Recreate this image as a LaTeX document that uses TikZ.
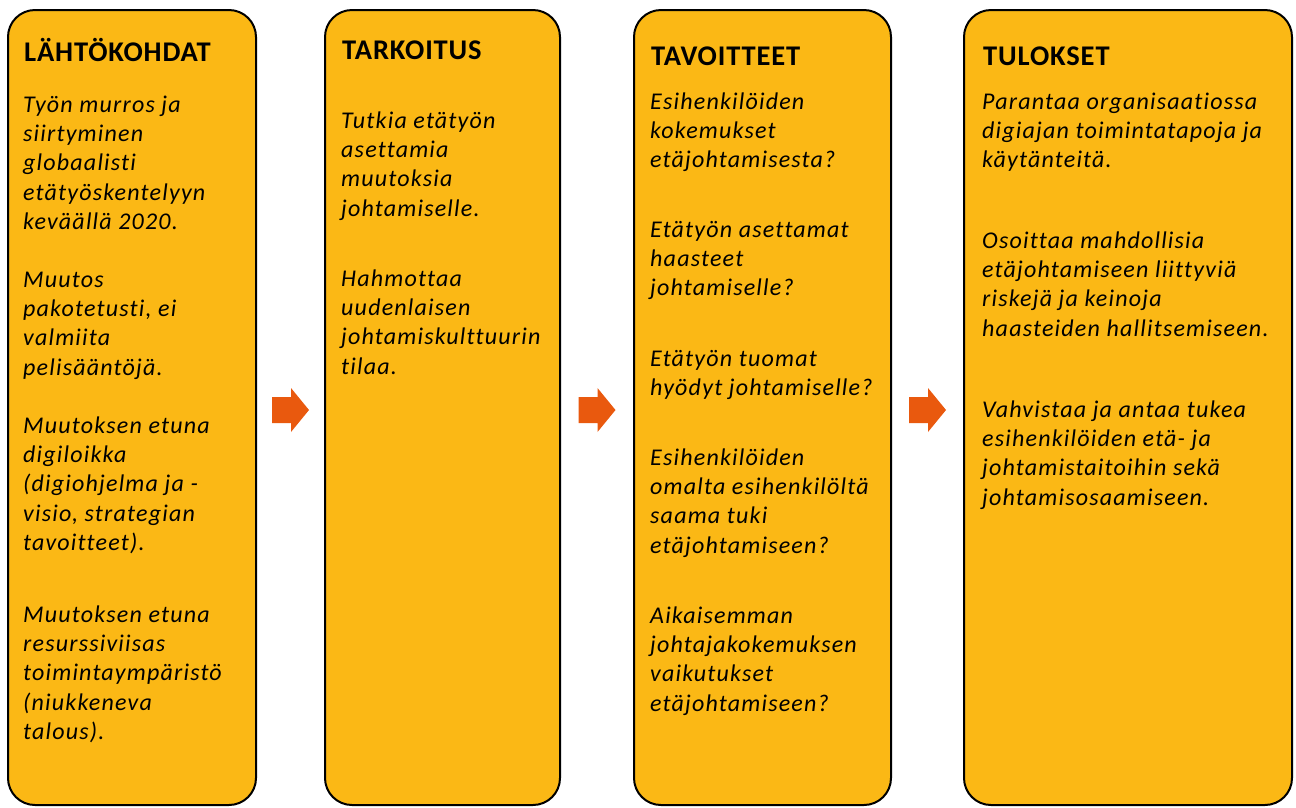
\documentclass[tikz,border=0pt]{standalone}
\usepackage{fontspec}
\setmainfont{Carlito}
\newfontfamily\bodyfam[LetterSpace=5, Ligatures=NoCommon]{Carlito}
\newfontfamily\headfam[LetterSpace=3, Ligatures=NoCommon]{Carlito}
\usepackage{tikz}
\usetikzlibrary{calc}
\definecolor{panelfill}{RGB}{251,184,21}
\definecolor{arrowred}{RGB}{233,89,14}
\newcommand{\titlefont}{\headfam\fontsize{28.5}{34}\selectfont\bfseries}
\newcommand{\bodyfont}{\bodyfam\fontsize{24}{29.3}\selectfont\itshape}

\begin{document}
\begin{tikzpicture}[x=1pt, y=-1pt,
  panel/.style={draw=black, line width=2pt, fill=panelfill, rounded corners=27pt, inner sep=0pt},
  heading/.style={anchor=base west, inner sep=0pt, font=\titlefont},
  para/.style={anchor=north west, inner sep=0pt, align=left, font=\bodyfont},
  flowarrow/.style={fill=arrowred, draw=none}]
  \useasboundingbox (0,0) rectangle (1296,807);

  % Panels
  \node[panel, minimum width=248pt, minimum height=795pt] (lahto) at (132,407.5) {};
  \node[panel, minimum width=235pt, minimum height=795pt] (tarkoitus) at (442.5,407.5) {};
  \node[panel, minimum width=257pt, minimum height=795pt] (tavoitteet) at (762.5,407.5) {};
  \node[panel, minimum width=328pt, minimum height=795pt] (tulokset) at (1128,407.5) {};

  % Arrows between panels
  \foreach \a/\b in {lahto/tarkoitus, tarkoitus/tavoitteet, tavoitteet/tulokset} {
    \coordinate (mid-\a) at ($(\a.east)!0.5!(\b.west)+(0,2.5)$);
    \fill[flowarrow] ($(mid-\a)+(-18.5,-13)$) -- ++(19,0) -- ++(0,-9) -- ++(18,22)
      -- ++(-18,22) -- ++(0,-9) -- ++(-19,0) -- cycle;
  }

  % Lähtökohdat
  \node[heading] (lahto-t) at (24,61) {LÄHTÖKOHDAT};
  \node[para] (lahto-p1) at (23,91.5) {\strut Työn murros ja\\siirtyminen\\globaalisti\\etätyöskentelyyn\\keväällä 2020.};
  \node[para] (lahto-p2) at (23,266.5) {\strut Muutos\\pakotetusti, ei\\valmiita\\pelisääntöjä.};
  \node[para] (lahto-p3) at (23,412.5) {\strut Muutoksen etuna\\digiloikka\\(digiohjelma ja -\\visio, strategian\\tavoitteet).};
  \node[para] (lahto-p4) at (23,601.5) {\strut Muutoksen etuna\\resurssiviisas\\toimintaympäristö\\(niukkeneva\\talous).};

  % Tarkoitus
  \node[heading] (tarkoitus-t) at (342,59) {TARKOITUS};
  \node[para] (tarkoitus-p1) at (341,107.5) {\strut Tutkia etätyön\\asettamia\\muutoksia\\johtamiselle.};
  \node[para] (tarkoitus-p2) at (341,265.5) {\strut Hahmottaa\\uudenlaisen\\johtamiskulttuurin\\tilaa.};

  % Tavoitteet
  \node[heading] (tavoitteet-t) at (651,65) {TAVOITTEET};
  \node[para] (tavoitteet-p1) at (650,88.5) {\strut Esihenkilöiden\\kokemukset\\etäjohtamisesta?};
  \node[para] (tavoitteet-p2) at (650,216.5) {\strut Etätyön asettamat\\haasteet\\johtamiselle?};
  \node[para] (tavoitteet-p3) at (650,345.5) {\strut Etätyön tuomat\\hyödyt johtamiselle?};
  \node[para] (tavoitteet-p4) at (650,444.5) {\strut Esihenkilöiden\\omalta esihenkilöltä\\saama tuki\\etäjohtamiseen?};
  \node[para] (tavoitteet-p5) at (650,602.5) {\strut Aikaisemman\\johtajakokemuksen\\vaikutukset\\etäjohtamiseen?};

  % Tulokset
  \node[heading] (tulokset-t) at (983,65) {TULOKSET};
  \node[para] (tulokset-p1) at (982,88.5) {\strut Parantaa organisaatiossa\\digiajan toimintatapoja ja\\käytänteitä.};
  \node[para] (tulokset-p2) at (982,227.5) {\strut Osoittaa mahdollisia\\etäjohtamiseen liittyviä\\riskejä ja keinoja\\haasteiden hallitsemiseen.};
  \node[para] (tulokset-p3) at (982,396.5) {\strut Vahvistaa ja antaa tukea\\esihenkilöiden etä- ja\\johtamistaitoihin sekä\\johtamisosaamiseen.};
\end{tikzpicture}
\end{document}
